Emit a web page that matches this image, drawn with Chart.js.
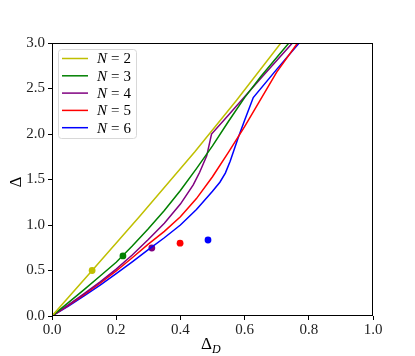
<!DOCTYPE html>
<html>
<head>
<meta charset="utf-8">
<script src="https://cdn.jsdelivr.net/npm/chart.js@4/dist/chart.umd.min.js"></script>
<style>
  html, body { margin: 0; padding: 0; background: #fff; }
  #wrap { width: 415px; height: 356px; }
</style>
</head>
<body>
<div id="wrap"><canvas id="gapChart" width="415" height="356"></canvas></div>
<script>
// curve data (x = Delta_D, y = Delta)
var labels = ['N = 2', 'N = 3', 'N = 4', 'N = 5', 'N = 6'];
var colors = ['#bfbf00', '#008000', '#800080', '#ff0000', '#0000ff'];

var n2x = [0, 0.125, 0.274, 0.445, 0.575, 0.713];
var n2y = [0, 0.5, 1.1, 1.805, 2.37, 3.0];

var n3x = [0, 0.05, 0.1, 0.15, 0.2, 0.25, 0.3, 0.35, 0.4, 0.45, 0.5, 0.55, 0.6, 0.65, 0.7, 0.738];
var n3y = [0, 0.145, 0.29, 0.44, 0.59, 0.77, 0.96, 1.16, 1.38, 1.62, 1.87, 2.14, 2.4, 2.63, 2.84, 3.0];

var n4x = [0, 0.05, 0.1, 0.15, 0.2, 0.25, 0.3, 0.35, 0.4, 0.44, 0.46, 0.482, 0.497, 0.55, 0.6, 0.65, 0.749];
var n4y = [0, 0.12, 0.245, 0.375, 0.515, 0.67, 0.84, 1.02, 1.23, 1.44, 1.58, 1.76, 2.0, 2.21, 2.41, 2.61, 3.0];

var n5x = [0, 0.05, 0.1, 0.15, 0.2, 0.25, 0.3, 0.35, 0.4, 0.45, 0.5, 0.55, 0.6, 0.65, 0.7, 0.765];
var n5y = [0, 0.115, 0.235, 0.36, 0.495, 0.64, 0.79, 0.93, 1.09, 1.29, 1.53, 1.8, 2.08, 2.38, 2.68, 3.0];

var n6x = [0, 0.05, 0.1, 0.15, 0.2, 0.25, 0.3, 0.35, 0.4, 0.45, 0.5, 0.523, 0.54, 0.555, 0.58, 0.601, 0.627, 0.7, 0.77];
var n6y = [0, 0.105, 0.22, 0.34, 0.465, 0.595, 0.73, 0.86, 1.0, 1.17, 1.37, 1.47, 1.57, 1.7, 1.96, 2.16, 2.4, 2.71, 3.0];

// single marker per N
var dotX = [0.125, 0.221, 0.311, 0.399, 0.486];
var dotY = [0.5, 0.66, 0.747, 0.80, 0.835];

var xTicks = [0, 0.2, 0.4, 0.6, 0.8, 1.0];
var yTicks = [0, 0.5, 1.0, 1.5, 2.0, 2.5, 3.0];

function pts(xs, ys) {
    return xs.map(function(x, i) { return {x: x, y: ys[i]}; });
}

var curveX = [n2x, n3x, n4x, n5x, n6x];
var curveY = [n2y, n3y, n4y, n5y, n6y];

var datasets = [];
for (var i = 0; i < labels.length; i++) {
    datasets.push({
        type: 'line',
        label: labels[i],
        data: pts(curveX[i], curveY[i]),
        borderColor: colors[i],
        borderWidth: 1.5,
        pointRadius: 0,
        fill: false,
        tension: 0
    });
}
for (var j = 0; j < dotX.length; j++) {
    datasets.push({
        type: 'scatter',
        label: 'dot' + j,
        data: [{x: dotX[j], y: dotY[j]}],
        backgroundColor: colors[j],
        borderColor: colors[j],
        pointRadius: 3.4,
        pointBorderWidth: 0
    });
}

var serif = "'Liberation Serif', 'DejaVu Serif', serif";

// frame, legend and axis titles (matplotlib style)
var extras = {
    id: 'extras',
    afterDraw: function(chart) {
        var ctx = chart.ctx, a = chart.chartArea;
        ctx.save();
        ctx.strokeStyle = '#000';
        ctx.lineWidth = 1;
        ctx.strokeRect(Math.round(a.left) + 0.5, Math.round(a.top) + 0.5,
            Math.round(a.right - a.left) - 1, Math.round(a.bottom - a.top) - 1);

        // legend box
        var lx = 58, ly = 49, lw = 78, lh = 89;
        ctx.fillStyle = 'rgba(255,255,255,0.85)';
        ctx.strokeStyle = '#d8d8d8';
        ctx.beginPath();
        ctx.roundRect(lx + 0.5, ly + 0.5, lw, lh, 3);
        ctx.fill();
        ctx.stroke();
        for (var k = 0; k < labels.length; k++) {
            var yy = 58.5 + k * 17.3;
            ctx.strokeStyle = colors[k];
            ctx.lineWidth = 1.5;
            ctx.beginPath();
            ctx.moveTo(62, yy);
            ctx.lineTo(88, yy);
            ctx.stroke();
            ctx.fillStyle = '#000';
            ctx.textBaseline = 'middle';
            ctx.textAlign = 'left';
            var parts = labels[k].split(' ');
            ctx.font = 'italic 15px ' + serif;
            ctx.fillText(parts[0], 97, yy + 1);
            var w = ctx.measureText(parts[0]).width;
            ctx.font = '15px ' + serif;
            ctx.fillText(parts[1], 97 + w + 4, yy + 1);
            var w2 = ctx.measureText(parts[1]).width;
            ctx.fillText(parts[2], 97 + w + w2 + 8, yy + 1);
        }

        // axis titles
        ctx.fillStyle = '#000';
        ctx.font = '17px ' + serif;
        ctx.textAlign = 'center';
        ctx.textBaseline = 'middle';
        ctx.save();
        ctx.translate(17, 182);
        ctx.rotate(-Math.PI / 2);
        ctx.fillText('\u0394', 0, 0);
        ctx.restore();
        ctx.textAlign = 'left';
        ctx.fillText('\u0394', 201, 345);
        ctx.font = 'italic 12px ' + serif;
        ctx.fillText('D', 212, 350);
        ctx.restore();
    }
};

var ctx = document.getElementById('gapChart').getContext('2d');
var gapChart = new Chart(ctx, {
    data: { datasets: datasets },
    options: {
        responsive: false,
        animation: false,
        layout: { padding: { left: 0, right: 42, top: 43, bottom: 0 } },
        plugins: {
            legend: { display: false },
            tooltip: { enabled: false }
        },
        scales: {
            x: {
                type: 'linear',
                min: 0,
                max: 1,
                afterFit: function(s) { s.height = 40; },
                afterBuildTicks: function(s) { s.ticks = xTicks.map(function(v) { return {value: v}; }); },
                ticks: {
                    font: { family: serif, size: 15 },
                    color: '#222',
                    padding: 1,
                    maxRotation: 0,
                    callback: function(v) { return v.toFixed(1); }
                },
                grid: { drawOnChartArea: false, tickLength: 4, color: '#000' },
                border: { display: false }
            },
            y: {
                type: 'linear',
                min: 0,
                max: 3,
                afterFit: function(s) { s.width = 52; },
                afterBuildTicks: function(s) { s.ticks = yTicks.map(function(v) { return {value: v}; }); },
                ticks: {
                    font: { family: serif, size: 15 },
                    color: '#222',
                    padding: 3,
                    callback: function(v) { return v.toFixed(1); }
                },
                grid: { drawOnChartArea: false, tickLength: 4, color: '#000' },
                border: { display: false }
            }
        }
    },
    plugins: [extras]
});
</script>
</body>
</html>
